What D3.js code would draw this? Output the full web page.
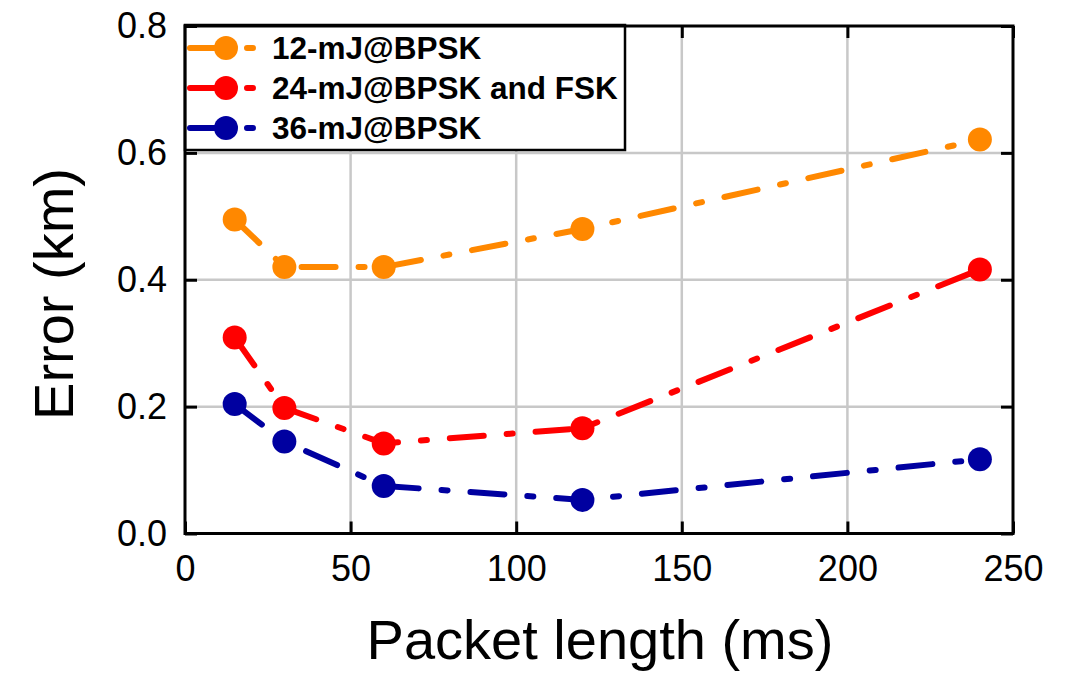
<!DOCTYPE html>
<html>
<head>
<meta charset="utf-8">
<script src="https://cdn.jsdelivr.net/npm/d3@7"></script>
<style>
  html, body { margin: 0; padding: 0; background: #fff; }
  svg { display: block; font-family: "Liberation Sans", Arial, sans-serif; }
</style>
</head>
<body>
<svg id="chart" width="1071" height="673"></svg>
<script>
// Packet lengths (ms) measured for every configuration
const packetLengths = [15, 30, 60, 120, 240];

// Localisation error (km) for each transmit energy / modulation
const err12mJ = [0.495, 0.42, 0.42, 0.48, 0.621];
const err24mJ = [0.309, 0.198, 0.142, 0.166, 0.416];
const err36mJ = [0.204, 0.145, 0.075, 0.053, 0.117];

const seriesNames = ["12-mJ@BPSK", "24-mJ@BPSK and FSK", "36-mJ@BPSK"];
const seriesColors = ["#ff8800", "#ff0000", "#0000a0"];

const xTicks = [0, 50, 100, 150, 200, 250];
const yTicks = [0.0, 0.2, 0.4, 0.6, 0.8];

const series = [err12mJ, err24mJ, err36mJ].map((vals, i) => ({
  name: seriesNames[i],
  color: seriesColors[i],
  points: packetLengths.map((p, j) => ({ x: p, y: vals[j] }))
}));

const svg = d3.select("#chart");
const plotL = 185, plotR = 1013, plotT = 26, plotB = 533.5;

const x = d3.scaleLinear().domain([0, 250]).range([plotL, plotR]);
const y = d3.scaleLinear().domain([0, 0.8]).range([plotB, plotT]);

const dash = "34,23,6,23";
const lineW = 6;
const markerR = 12;

// grid
const grid = svg.append("g");
grid.selectAll("line.gx")
  .data(xTicks.filter(t => t > 0 && t < 250))
  .join("line")
  .attr("x1", d => x(d)).attr("x2", d => x(d))
  .attr("y1", plotT).attr("y2", plotB)
  .attr("stroke", "#c8c8c8").attr("stroke-width", 2.5);
grid.selectAll("line.gy")
  .data(yTicks.filter(t => t > 0 && t < 0.8))
  .join("line")
  .attr("x1", plotL).attr("x2", plotR)
  .attr("y1", d => y(d)).attr("y2", d => y(d))
  .attr("stroke", "#c8c8c8").attr("stroke-width", 2.5);

// data lines and markers
const line = d3.line().x(d => x(d.x)).y(d => y(d.y));
const plot = svg.append("g");
series.forEach(s => {
  plot.append("path")
    .datum(s.points)
    .attr("d", line)
    .attr("fill", "none")
    .attr("stroke", s.color)
    .attr("stroke-width", lineW)
    .attr("stroke-linecap", "round")
    .attr("stroke-dasharray", dash);
  plot.selectAll(null)
    .data(s.points)
    .join("circle")
    .attr("cx", d => x(d.x))
    .attr("cy", d => y(d.y))
    .attr("r", markerR)
    .attr("fill", s.color);
});

// legend
const legend = svg.append("g");
legend.append("rect")
  .attr("x", plotL).attr("y", plotT - 1)
  .attr("width", 440).attr("height", 125)
  .attr("fill", "#fff").attr("stroke", "#000").attr("stroke-width", 2.5);
const rowY = [48, 88, 128];
series.forEach((s, i) => {
  const g = legend.append("g").attr("transform", `translate(0,${rowY[i]})`);
  g.append("line")
    .attr("x1", 190).attr("x2", 258).attr("y1", 0).attr("y2", 0)
    .attr("stroke", s.color).attr("stroke-width", lineW)
    .attr("stroke-linecap", "round").attr("stroke-dasharray", dash);
  g.append("circle").attr("cx", 226).attr("cy", 0).attr("r", markerR).attr("fill", s.color);
  g.append("text")
    .attr("x", 272).attr("y", 0).attr("dy", "0.36em")
    .attr("font-size", 31.5).attr("font-weight", "bold")
    .attr("fill", "#000")
    .text(s.name);
});

// axes with inward ticks
const tickLen = 12;
const xAxis = svg.append("g").attr("transform", `translate(0,${plotB})`)
  .call(d3.axisBottom(x).tickValues(xTicks).tickSize(-tickLen).tickPadding(22).tickFormat(d3.format("d")));
const yAxis = svg.append("g").attr("transform", `translate(${plotL},0)`)
  .call(d3.axisLeft(y).tickValues(yTicks).tickSize(-tickLen).tickPadding(18).tickFormat(d3.format(".1f")));
const xTop = svg.append("g").attr("transform", `translate(0,${plotT})`)
  .call(d3.axisTop(x).tickValues(xTicks.filter(t => t >= 150)).tickSize(-tickLen).tickFormat(""));
const yRight = svg.append("g").attr("transform", `translate(${plotR},0)`)
  .call(d3.axisRight(y).tickValues(yTicks).tickSize(-tickLen).tickFormat(""));

[xAxis, yAxis, xTop, yRight].forEach(a => {
  a.select(".domain").remove();
  a.selectAll(".tick line").attr("stroke", "#000").attr("stroke-width", 3);
  a.selectAll(".tick text").attr("font-size", 36).attr("fill", "#000")
    .attr("font-family", "'Liberation Sans', Arial, sans-serif");
});

// frame
svg.append("rect")
  .attr("x", plotL).attr("y", plotT)
  .attr("width", plotR - plotL).attr("height", plotB - plotT)
  .attr("fill", "none").attr("stroke", "#000").attr("stroke-width", 3);

// axis titles
svg.append("text")
  .attr("x", 600).attr("y", 659)
  .attr("text-anchor", "middle")
  .attr("font-size", 56)
  .text("Packet length (ms)");
svg.append("text")
  .attr("transform", "translate(73,294) rotate(-90)")
  .attr("text-anchor", "middle")
  .attr("font-size", 56)
  .text("Error (km)");
</script>
</body>
</html>
